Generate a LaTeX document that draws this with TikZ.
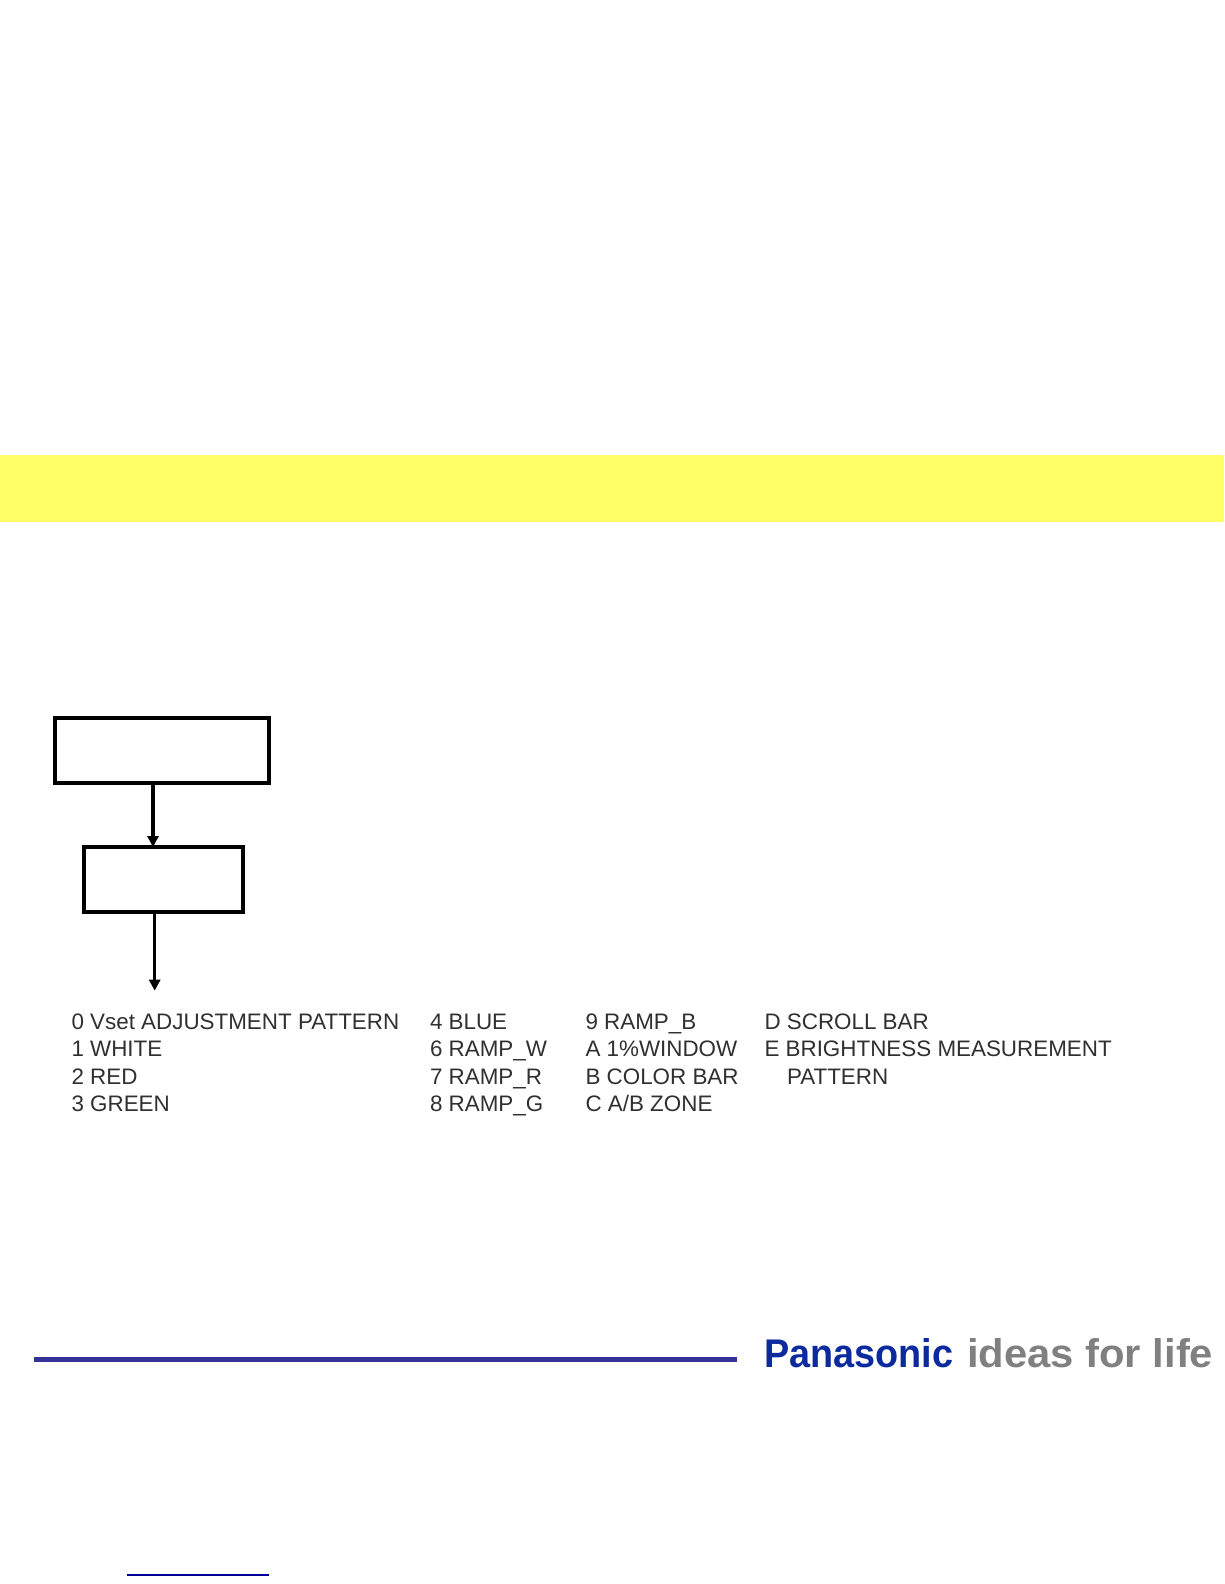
\documentclass[tikz,border=0pt]{standalone}
\usepackage{fontspec}
\setmainfont{Liberation Sans}
\usetikzlibrary{arrows.meta}
\definecolor{bandyellow}{HTML}{FFFF66}
\definecolor{rulenavy}{HTML}{333399}
\definecolor{logoblue}{HTML}{0B2A9E}
\definecolor{logogray}{HTML}{808080}
\definecolor{linknavy}{HTML}{000099}
\definecolor{listtext}{HTML}{303030}
\tikzset{
  flowbox/.style={draw=black,line width=3.5pt,fill=white,inner sep=0pt,outer sep=0pt},
  flowarrow/.style={draw=black,line width=3.5pt,-{Triangle[length=11pt,width=11pt]}},
  listitem/.style={anchor=base west,inner sep=0pt,outer sep=0pt,text=listtext,font=\fontsize{22.4}{24}\selectfont},
  logotext/.style={anchor=base west,inner sep=0pt,outer sep=0pt,font=\fontsize{40}{42}\selectfont\bfseries}
}
\begin{document}
\begin{tikzpicture}[x=1pt,y=-1pt]
\useasboundingbox (0,0) rectangle (1224,1584);
\fill[white] (0,0) rectangle (1224,1584);
\fill[bandyellow] (0,454.5) rectangle (1224,522);
% flow boxes
\node[flowbox,minimum width=214pt,minimum height=65pt] (boxa) at (162,750.5) {};
\node[flowbox,minimum width=159pt,minimum height=65pt] (boxb) at (163.5,879.5) {};
\coordinate (arrowa) at (153,800);
\coordinate (arrowb) at (154.7,990.7);
\draw[flowarrow] (arrowa |- boxa.south) -- (arrowa |- boxb.north);
\draw[flowarrow] (arrowb |- boxb.south) -- (arrowb);
% list
\node[listitem] (l00) at (71.5,1029) {0 Vset ADJUSTMENT PATTERN};
\node[listitem] (l01) at (71.5,1056.5) {1 WHITE};
\node[listitem] (l02) at (71.5,1084) {2 RED};
\node[listitem] (l03) at (71.5,1111.5) {3 GREEN};
\node[listitem] (l10) at (430,1029) {4 BLUE};
\node[listitem] (l11) at (430,1056.5) {6 RAMP\_W};
\node[listitem] (l12) at (430,1084) {7 RAMP\_R};
\node[listitem] (l13) at (430,1111.5) {8 RAMP\_G};
\node[listitem] (l20) at (585.5,1029) {9 RAMP\_B};
\node[listitem] (l21) at (585.5,1056.5) {A 1\%WINDOW};
\node[listitem] (l22) at (585.5,1084) {B COLOR BAR};
\node[listitem] (l23) at (585.5,1111.5) {C A/B ZONE};
\node[listitem] (l30) at (764.5,1029) {D SCROLL BAR};
\node[listitem] (l31) at (764.5,1056.5) {E BRIGHTNESS MEASUREMENT};
\node[listitem] (l32) at (787,1084) {PATTERN};
% footer
\fill[rulenavy] (33.5,1356.5) rectangle (737,1361.5);
\node[logotext,text=logoblue] (logoa) at (764,1367.5) {\scalebox{0.945}[1]{Panasonic}};
\node[logotext,text=logogray] (logob) at (967,1367.5) {\scalebox{1.045}[1]{ideas for life}};
\fill[linknavy] (126.7,1574.4) rectangle (269,1575.6);
\end{tikzpicture}
\end{document}
